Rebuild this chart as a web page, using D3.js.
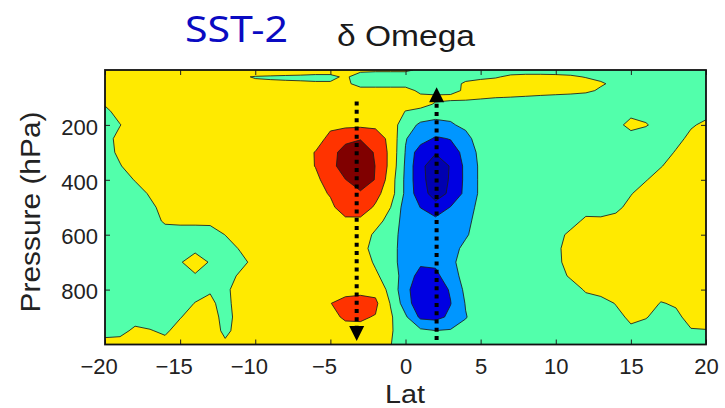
<!DOCTYPE html>
<html>
<head>
<meta charset="utf-8">
<script src="https://cdn.jsdelivr.net/npm/d3@7"></script>
<style>
  html, body { margin: 0; padding: 0; background: #ffffff; }
  svg { display: block; }
</style>
</head>
<body>
<svg id="chart" width="725" height="408"></svg>
<script>
// Latitude of each grid column (degrees)
const lats = [-20,-19,-18,-17,-16,-15,-14,-13,-12,-11,-10,-9,-8,-7,-6,-5,-4,-3,-2,-1,0,1,2,3,4,5,6,7,8,9,10,11,12,13,14,15,16,17,18,19,20];

// Pressure of each grid row (hPa)
const pressures = [0,25,50,75,100,125,150,200,250,300,350,400,450,500,550,600,650,700,750,800,850,900,950,1000];

// delta omega on the (pressure, latitude) grid, one row per pressure level
const deltaOmega = [
  [0.6,0.6,0.6,0.6,0.6,0.6,0.6,0.6,0.6,0.6,0.6,0.6,0.6,0.6,0.6,0.6,0.6,0.3,0.2,0.2,0.2,-0.2,-0.5,-0.5,-0.5,-0.5,-0.5,-0.5,-0.5,-0.5,-0.5,-0.5,-0.5,-0.5,-0.5,-0.5,-0.5,-0.5,-0.5,-0.5,-0.5],
  [0.6,0.6,0.6,0.6,0.6,0.6,0.6,0.6,0.6,0.1,-0.05,-0.1,-0.15,-0.2,-0.3,-0.3,0.2,-0.6,-0.6,-0.6,-0.6,-0.6,-0.6,-0.6,-0.4,-0.3,-0.1,0.2,0.3,0.3,0.25,0.15,-0.05,-0.3,-0.6,-0.6,-0.6,-0.6,-0.6,-0.6,-0.6],
  [0.7,0.7,0.7,0.7,0.7,0.7,0.7,0.7,0.7,0.7,0.15,0.15,0.15,0.15,0.15,0.15,0.3,-0.5,-0.5,-0.5,-0.5,-0.5,-0.5,-0.5,0.2,0.5,0.5,0.5,0.5,0.5,0.5,0.5,0.4,0.15,-0.3,-0.6,-0.6,-0.6,-0.6,-0.6,-0.6],
  [0.8,0.8,0.8,0.8,0.8,0.8,0.8,0.8,0.8,0.8,0.8,0.8,0.8,0.8,0.8,0.8,0.8,0.5,0.5,0.5,0.5,-0.3,-0.5,-0.4,0.2,0.6,0.6,0.6,0.6,0.6,0.6,0.6,0.3,-0.2,-0.6,-0.6,-0.6,-0.6,-0.6,-0.6,-0.6],
  [0.8,0.8,0.8,0.8,0.8,0.8,0.8,0.8,0.8,0.8,0.8,0.8,0.8,0.8,0.8,0.8,0.8,0.8,0.8,0.8,0.7,0.3,0.3,0.3,0.4,0.2,0.03,-0.03,-0.12,-0.25,-0.4,-0.6,-0.6,-0.7,-0.7,-0.7,-0.7,-0.7,-0.7,-0.7,-0.7],
  [0.12,0.8,0.8,0.8,0.8,0.8,0.8,0.8,0.8,0.8,0.8,0.8,0.8,0.8,0.8,0.8,0.8,0.8,0.8,0.8,0.8,0.5,-0.15,-0.35,-0.6,-0.7,-0.7,-0.7,-0.7,-0.7,-0.7,-0.7,-0.7,-0.7,-0.7,-0.7,-0.7,-0.7,-0.7,-0.7,-0.7],
  [-0.36,0.6,0.8,0.8,0.8,0.8,0.8,0.8,0.8,0.8,0.8,0.8,0.8,0.8,0.8,0.8,0.8,0.8,0.8,0.8,-0.03,-0.4,-0.7,-0.7,-0.7,-0.7,-0.7,-0.7,-0.7,-0.7,-0.7,-0.7,-0.7,-0.7,-0.7,-0.5,-0.5,-0.7,-0.7,-0.7,-0.6],
  [-0.95,-0.05,0.8,0.8,0.8,0.8,0.8,0.8,0.8,0.8,0.8,0.8,0.8,0.8,0.8,0.8,0.8,0.8,0.8,0.55,-0.6,-1.15,-1.2,-1.1,-0.8,-0.7,-0.7,-0.7,-0.7,-0.7,-0.7,-0.7,-0.7,-0.7,-0.5,0.5,0.1,-0.5,-0.7,-0.2,0.36],
  [-0.55,0.45,0.8,0.8,0.8,0.8,0.8,0.8,0.8,0.8,0.8,0.8,0.8,0.7,0.6,1.25,1.7,1.94,1.5,0.75,-0.95,-1.5,-2.15,-1.95,-1.3,-0.55,-0.7,-0.7,-0.7,-0.7,-0.7,-0.7,-0.7,-0.7,-0.7,-0.7,-0.7,-0.7,-0.55,0.45,0.8],
  [-0.65,0.35,0.8,0.8,0.8,0.8,0.8,0.8,0.8,0.8,0.8,0.8,0.8,0.7,1.03,1.6,2.43,2.6,1.89,0.75,-1.05,-2.63,-2.95,-2.5,-1.67,-0.71,-0.7,-0.7,-0.7,-0.7,-0.7,-0.7,-0.7,-0.7,-0.7,-0.7,-0.7,-0.85,0.15,0.8,0.8],
  [-0.9,-0.1,0.8,0.8,0.8,0.8,0.8,0.8,0.8,0.8,0.8,0.8,0.8,0.7,1.02,1.7,2.45,2.65,1.98,0.72,-1.15,-2.85,-3.35,-2.96,-1.76,-0.81,-0.7,-0.7,-0.7,-0.7,-0.7,-0.7,-0.7,-0.7,-0.7,-0.7,-0.7,-0.1,0.8,0.8,0.8],
  [-0.9,-0.9,0.1,0.8,0.8,0.8,0.8,0.8,0.8,0.8,0.8,0.8,0.8,0.8,0.8,1.4,1.98,2.4,1.965,0.5,-1.2,-2.8,-3.37,-2.935,-1.77,-0.81,-0.7,-0.7,-0.7,-0.7,-0.7,-0.7,-0.7,-0.7,-0.7,-0.7,-0.1,0.8,0.8,0.8,0.8],
  [-0.8,-0.8,-0.8,0.2,0.8,0.8,0.8,0.8,0.8,0.8,0.8,0.8,0.8,0.8,0.7,1.075,1.6,1.9,1.3,0.45,-1.2,-2.65,-3.35,-2.85,-1.72,-0.82,-0.7,-0.7,-0.7,-0.7,-0.7,-0.7,-0.7,-0.7,-0.7,-0.1,0.8,0.8,0.8,0.8,0.8],
  [-0.8,-0.8,-0.8,-0.4,0.6,0.8,0.8,0.8,0.8,0.8,0.8,0.8,0.8,0.8,0.8,0.8,1.47,1.5,0.875,0.02,-1.44,-2.02,-2.7,-1.96,-1.5,-0.67,-0.7,-0.7,-0.7,-0.7,-0.7,-0.7,-0.7,-0.7,-0.45,0.55,0.8,0.8,0.8,0.8,0.8],
  [-0.8,-0.8,-0.8,-0.75,0.25,0.35,0.35,0.4,0.6,0.8,0.8,0.8,0.8,0.8,0.8,0.8,0.8,0.8,0.5,-0.5,-1.33,-1.6,-1.7,-1.6,-1.3,-0.55,-0.7,-0.7,-0.7,-0.7,-0.7,-0.65,0.35,0.3,0.6,0.8,0.8,0.8,0.8,0.8,0.8],
  [-0.8,-0.8,-0.8,-0.8,-0.8,-0.8,-0.8,-0.8,0.03,0.8,0.8,0.8,0.8,0.8,0.8,0.8,0.8,0.75,-0.25,-0.7,-1.3,-1.45,-1.5,-1.4,-1.1,-0.6,-0.7,-0.7,-0.7,-0.7,-0.6,0.4,0.8,0.8,0.8,0.8,0.8,0.8,0.8,0.8,0.8],
  [-0.8,-0.8,-0.8,-0.8,-0.8,-0.6,-0.3,-0.6,-0.8,0.15,0.8,0.8,0.8,0.8,0.8,0.8,0.8,0.5,-0.5,-0.75,-1.3,-1.45,-1.5,-1.3,-0.8,-0.7,-0.7,-0.7,-0.7,-0.7,-0.35,0.65,0.8,0.8,0.8,0.8,0.8,0.8,0.8,0.8,0.8],
  [-0.8,-0.8,-0.8,-0.8,-0.8,-0.1,0.6,-0.1,-0.8,-0.5,0.5,0.8,0.8,0.8,0.8,0.8,0.8,0.8,-0.2,-0.75,-1.3,-1.75,-1.8,-1.15,-0.72,-0.7,-0.7,-0.7,-0.7,-0.7,-0.4,0.6,0.8,0.8,0.8,0.8,0.8,0.8,0.8,0.8,0.8],
  [-0.8,-0.8,-0.8,-0.8,-0.8,-0.8,-0.13,-0.6,-0.73,0.27,0.8,0.8,0.8,0.8,0.8,0.8,0.8,0.8,0.25,-0.75,-1.2,-2.53,-2.25,-1.42,-0.66,-0.7,-0.7,-0.7,-0.7,-0.7,-0.75,0.25,0.8,0.8,0.8,0.8,0.8,0.8,0.8,0.8,0.8],
  [-0.8,-0.8,-0.8,-0.8,-0.8,-0.8,-0.8,-0.1,-0.33,0.67,0.8,0.8,0.8,0.8,0.8,0.75,0.675,0.75,0.7,-0.3,-1.7,-2.7,-2.5,-1.91,-0.77,-0.7,-0.7,-0.7,-0.7,-0.7,-0.7,-0.8,0.2,0.8,0.8,0.8,0.8,0.8,0.8,0.8,0.8],
  [-0.8,-0.8,-0.8,-0.8,-0.8,-0.8,0.07,0.22,-0.4,0.6,0.8,0.8,0.8,0.8,0.8,0.98,1.3,1.35,1.2,-0.05,-1.5,-2.75,-2.6,-2.03,-0.95,-0.7,-0.7,-0.7,-0.7,-0.7,-0.7,-0.7,-0.7,-0.8,0.1,0.8,0.8,-0.1,0.2,0.8,0.8],
  [-0.8,-0.8,-0.8,-0.8,-0.8,-0.1,0.8,0.57,-0.43,0.45,0.8,0.8,0.8,0.8,0.8,0.85,1.08,1.1,0.95,0.14,-0.85,-2.2,-2.3,-1.8,-1.05,-0.55,-0.7,-0.7,-0.7,-0.7,-0.7,-0.7,-0.7,-0.7,-0.6,0.4,0.1,-0.6,-0.4,0.6,0.8],
  [-0.8,-0.6,0.4,0.1,-0.3,0.7,0.8,0.7,-0.3,0.5,0.8,0.8,0.8,0.8,0.8,0.8,0.8,0.8,0.8,0.15,-0.75,-0.8,-0.98,-0.91,-0.7,-0.7,-0.7,-0.7,-0.7,-0.7,-0.7,-0.7,-0.7,-0.7,-0.7,-0.4,-0.7,-0.7,-0.5,-0.13,-0.09],
  [0.8,0.8,0.8,0.8,0.6,0.8,0.8,0.8,0.24,0.8,0.8,0.8,0.8,0.8,0.8,0.8,0.8,0.8,0.8,0.05,-0.8,-0.8,-0.8,-0.8,-0.8,-0.8,-0.8,-0.8,-0.8,-0.8,-0.8,-0.8,-0.8,-0.8,-0.8,-0.8,-0.8,-0.8,-0.8,-0.8,-0.8]
];

// Contour levels and the fill of each band (lowest band first)
const levels = [-3, -2, -1, 0, 1, 2];
const bandColors = ["#0000b0", "#0000e2", "#0096ff", "#52ffab", "#ffea00", "#ff3300", "#800000"];

// Axis ticks
const latTicks = [-20, -15, -10, -5, 0, 5, 10, 15, 20];
const pressureTicks = [200, 400, 600, 800];

// Dotted circulation arrows: latitude, start pressure, tip pressure
const arrows = [
  { lat: -3.25, from: 115, to: 987 },
  { lat: 2.07, from: 984, to: 63 }
];

const FONT = "'Liberation Sans', Arial, Helvetica, sans-serif";
const plot = { left: 105, right: 706, top: 70, bottom: 344.5 };

const svg = d3.select("#chart");

const x = d3.scaleLinear().domain([-20, 20]).range([plot.left, plot.right]);
const y = d3.scaleLinear().domain([0, 1000]).range([plot.top, plot.bottom]);

// Grid index space (samples sit at i + 0.5) to latitude / pressure
const colToLat = d3.scaleLinear().domain(lats.map((_, i) => i + 0.5)).range(lats);
const rowToP = d3.scaleLinear().domain(pressures.map((_, i) => i + 0.5)).range(pressures);

const toScreen = d3.geoTransform({
  point(c, r) { this.stream.point(x(colToLat(c)), y(rowToP(r))); }
});
const path = d3.geoPath(toScreen);

const bands = d3.contours()
  .size([lats.length, pressures.length])
  .thresholds(levels)(deltaOmega.flat());

svg.append("clipPath").attr("id", "plotClip")
  .append("rect")
  .attr("x", plot.left).attr("y", plot.top)
  .attr("width", plot.right - plot.left).attr("height", plot.bottom - plot.top);

const field = svg.append("g").attr("clip-path", "url(#plotClip)");

field.append("rect")
  .attr("x", plot.left).attr("y", plot.top)
  .attr("width", plot.right - plot.left).attr("height", plot.bottom - plot.top)
  .attr("fill", bandColors[0]);

field.append("g").selectAll("path")
  .data(bands)
  .join("path")
  .attr("d", path)
  .attr("fill", (d, i) => bandColors[i + 1]);

field.append("g").selectAll("path")
  .data(bands)
  .join("path")
  .attr("d", path)
  .attr("fill", "none")
  .attr("stroke", "#1c1c1c")
  .attr("stroke-width", 1)
  .attr("stroke-linejoin", "round")
  .attr("stroke-opacity", 0.85);

// Dotted arrows
const arrowLayer = svg.append("g");
arrows.forEach(a => {
  const xa = x(a.lat);
  const y0 = y(a.from), yTip = y(a.to);
  const dir = Math.sign(yTip - y0);
  const headLen = 15, headHalf = 7.5;
  const yBase = yTip - dir * headLen;
  arrowLayer.append("line")
    .attr("x1", xa).attr("x2", xa)
    .attr("y1", y0).attr("y2", yBase)
    .attr("stroke", "#000")
    .attr("stroke-width", 4)
    .attr("stroke-dasharray", "4,4.3");
  arrowLayer.append("path")
    .attr("d", `M${xa - headHalf},${yBase} L${xa + headHalf},${yBase} L${xa},${yTip} Z`)
    .attr("fill", "#000");
});

// Axes with inward ticks on all four sides
const fmt = d => d < 0 ? "\u2212" + Math.abs(d) : String(d);

const probe = svg.append("text").attr("font-size", 22).attr("font-family", FONT).text("\u2212");
const minusWidth = probe.node().getComputedTextLength();
probe.remove();

const gx = svg.append("g")
  .attr("transform", `translate(0,${plot.bottom})`)
  .call(d3.axisBottom(x).tickValues(latTicks).tickSizeInner(-5).tickSizeOuter(0).tickPadding(14).tickFormat(fmt));
gx.select(".domain").remove();
gx.selectAll("line").attr("stroke", "#222");
gx.selectAll("text")
  .attr("font-size", 22).attr("font-family", FONT).attr("fill", "#222")
  .attr("dx", d => d < 0 ? -minusWidth / 2 : 0);

const gxTop = svg.append("g")
  .attr("transform", `translate(0,${plot.top})`)
  .call(d3.axisTop(x).tickValues(latTicks).tickSizeInner(-5).tickSizeOuter(0).tickFormat(""));
gxTop.select(".domain").remove();
gxTop.selectAll("text").remove();
gxTop.selectAll("line").attr("stroke", "#222");

const gy = svg.append("g")
  .attr("transform", `translate(${plot.left},0)`)
  .call(d3.axisLeft(y).tickValues(pressureTicks).tickSizeInner(-5).tickSizeOuter(0).tickPadding(7));
gy.select(".domain").remove();
gy.selectAll("line").attr("stroke", "#222");
gy.selectAll("text")
  .attr("font-size", 22).attr("font-family", FONT).attr("fill", "#222")
  .attr("dy", "0.42em");

const gyRight = svg.append("g")
  .attr("transform", `translate(${plot.right},0)`)
  .call(d3.axisRight(y).tickValues(pressureTicks).tickSizeInner(-5).tickSizeOuter(0).tickFormat(""));
gyRight.select(".domain").remove();
gyRight.selectAll("text").remove();
gyRight.selectAll("line").attr("stroke", "#222");

// Frame
svg.append("rect")
  .attr("x", plot.left).attr("y", plot.top)
  .attr("width", plot.right - plot.left).attr("height", plot.bottom - plot.top)
  .attr("fill", "none").attr("stroke", "#111").attr("stroke-width", 1.8);

// Axis titles
svg.append("text")
  .attr("transform", "translate(40,212) rotate(-90)")
  .attr("text-anchor", "middle")
  .attr("font-size", 28).attr("font-family", FONT).attr("fill", "#222")
  .attr("textLength", 201).attr("lengthAdjust", "spacingAndGlyphs")
  .text("Pressure (hPa)");

svg.append("text")
  .attr("x", 405).attr("y", 402.5)
  .attr("text-anchor", "middle")
  .attr("font-size", 26).attr("font-family", FONT).attr("fill", "#222")
  .attr("textLength", 40).attr("lengthAdjust", "spacingAndGlyphs")
  .text("Lat");

// Titles
svg.append("text")
  .attr("x", 185).attr("y", 42)
  .attr("font-size", 37).attr("font-family", "'Noto Sans', 'DejaVu Sans', sans-serif")
  .attr("fill", "#0a0ac2")
  .attr("textLength", 103).attr("lengthAdjust", "spacingAndGlyphs")
  .text("SST-2");

svg.append("text")
  .attr("x", 337).attr("y", 46)
  .attr("font-size", 30).attr("font-family", FONT).attr("fill", "#1a1a1a")
  .attr("textLength", 138).attr("lengthAdjust", "spacingAndGlyphs")
  .text("\u03b4 Omega");
</script>
</body>
</html>
